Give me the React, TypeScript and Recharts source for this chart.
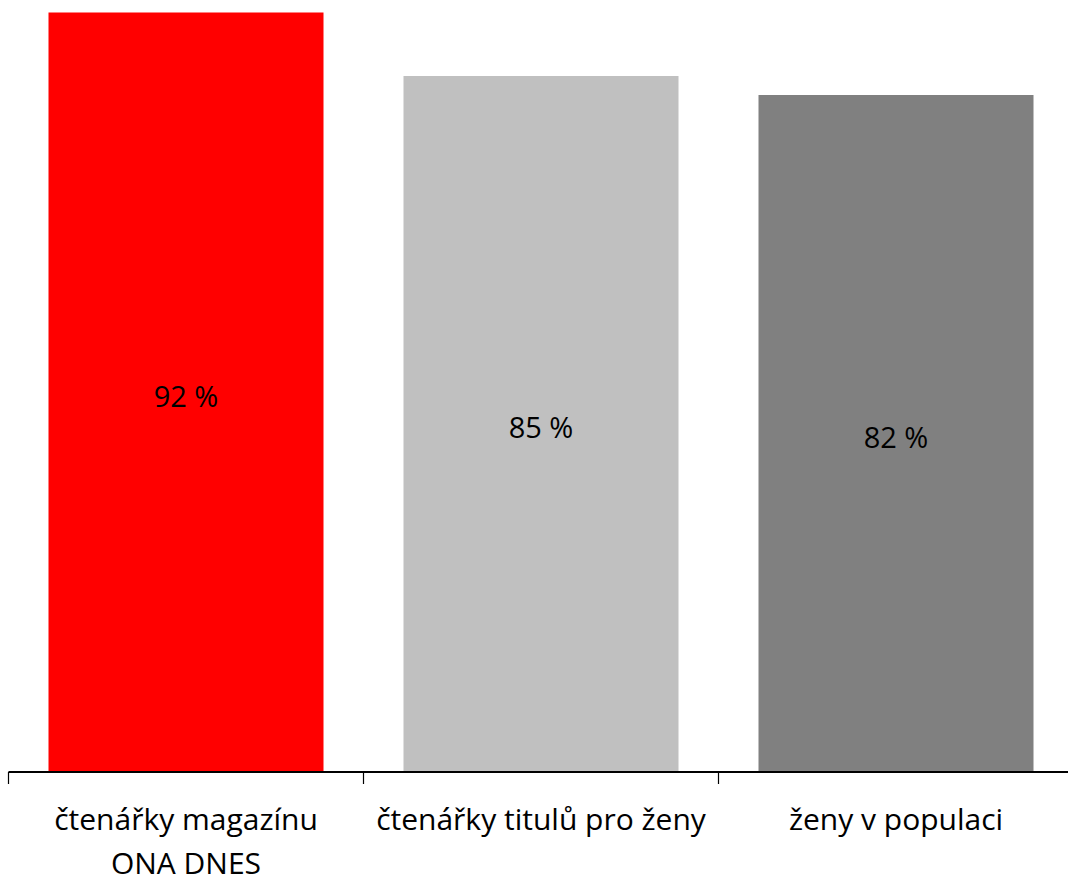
import { BarChart, Bar, XAxis, YAxis, Cell, LabelList } from "recharts";

const categories = ["čtenářky magazínu\nONA DNES", "čtenářky titulů pro ženy", "ženy v populaci"];
const shares = [92, 84.3, 82];
const shareLabels = ["92 %", "85 %", "82 %"];
const barColors = ["#FF0000", "#C0C0C0", "#808080"];

const data = categories.map((name, i) => ({ name, value: shares[i], label: shareLabels[i] }));

const CHART_W = 1074;
const MARGIN_L = 8.5;
const MARGIN_R = 0.5;
const BAND = (CHART_W - MARGIN_L - MARGIN_R) / categories.length;
const FONT = "'Open Sans', Lato, sans-serif";

function CategoryTick(props: any) {
  const { x, y, payload, index } = props;
  const lines = String(payload.value).split("\n");
  const axisY = y - 8;
  return (
    <g>
      <line x1={x - BAND / 2} x2={x - BAND / 2} y1={axisY} y2={axisY + 12} stroke="#000" strokeWidth={1.2} />
      {index === categories.length - 1 && (
        <line x1={x + BAND / 2} x2={x + BAND / 2} y1={axisY} y2={axisY + 12} stroke="#000" strokeWidth={1.2} />
      )}
      <text x={x} y={axisY + 58} textAnchor="middle" fontSize={30} fontFamily={FONT} fill="#000">
        {lines.map((ln, i) => (
          <tspan key={i} x={x} dy={i === 0 ? 0 : 44}>
            {ln}
          </tspan>
        ))}
      </text>
    </g>
  );
}

export default function App() {
  return (
    <div style={{ position: "absolute", left: 0, top: 0, width: 1068, height: 877, overflow: "hidden", background: "#fff" }}>
      <BarChart
        width={CHART_W}
        height={877}
        data={data}
        margin={{ top: 12.5, right: MARGIN_R, bottom: 0, left: MARGIN_L }}
        barCategoryGap={40}
      >
        <YAxis hide domain={[0, 92]} />
        <XAxis
          dataKey="name"
          height={105}
          interval={0}
          axisLine={{ stroke: "#000", strokeWidth: 2 }}
          tickLine={false}
          tick={<CategoryTick />}
        />
        <Bar dataKey="value" isAnimationActive={false}>
          {data.map((d, i) => (
            <Cell key={d.name} fill={barColors[i]} />
          ))}
          <LabelList
            dataKey="label"
            position="center"
            fontSize={29}
            fontFamily={FONT}
            fill="#000"
            dy={4}
          />
        </Bar>
      </BarChart>
    </div>
  );
}
